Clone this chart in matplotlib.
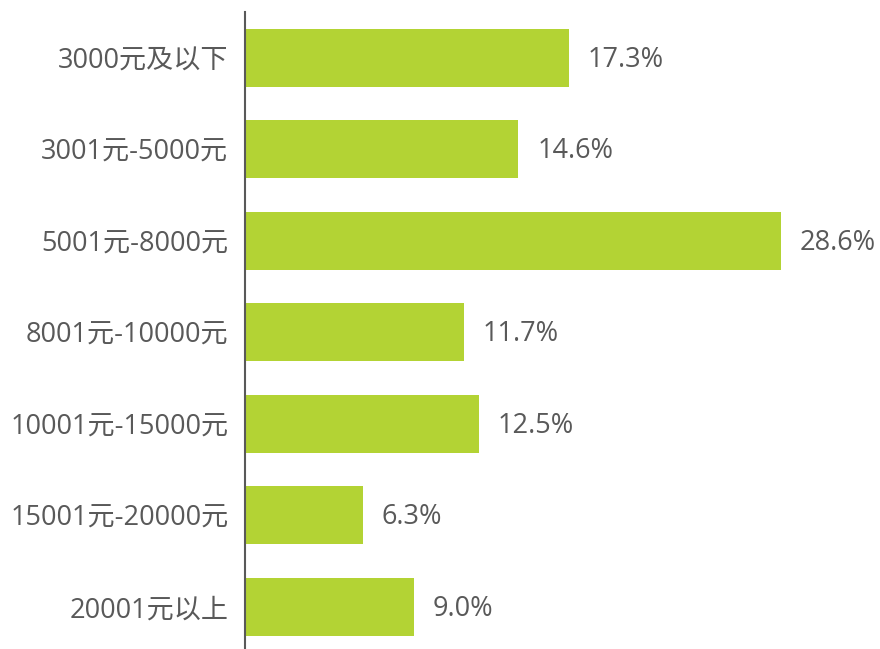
import matplotlib.pyplot as plt

plt.rcParams['font.family'] = ['Open Sans', 'Noto Sans CJK SC', 'DejaVu Sans']

categories = ['3000元及以下', '3001元-5000元', '5001元-8000元', '8001元-10000元',
              '10001元-15000元', '15001元-20000元', '20001元以上']
shares = [17.3, 14.6, 28.6, 11.7, 12.5, 6.3, 9.0]

bar_color = '#B3D334'
text_color = '#595959'

fig = plt.figure(figsize=(8.8, 6.49), dpi=100)
ax = fig.add_axes([245 / 880, 0, 1 - 245 / 880, 637 / 649])

pos = list(range(len(categories)))
ax.barh(pos, shares, height=0.634, color=bar_color)

for y, v in zip(pos, shares):
    ax.text(v + 1.0, y + 0.02, f'{v:.1f}%', va='center', ha='left',
            fontsize=19.5, color=text_color)

ax.set_xlim(0, 33.9)
ax.set_ylim(6.46, -0.5)
ax.set_yticks(pos)
ax.set_yticklabels(categories, fontsize=19.5, color=text_color)
ax.tick_params(axis='y', length=0, pad=12)
ax.set_xticks([])

for side in ['top', 'right', 'bottom']:
    ax.spines[side].set_visible(False)
ax.spines['left'].set_color(text_color)
ax.spines['left'].set_linewidth(1.5)

fig.savefig('out.png', dpi=100)
